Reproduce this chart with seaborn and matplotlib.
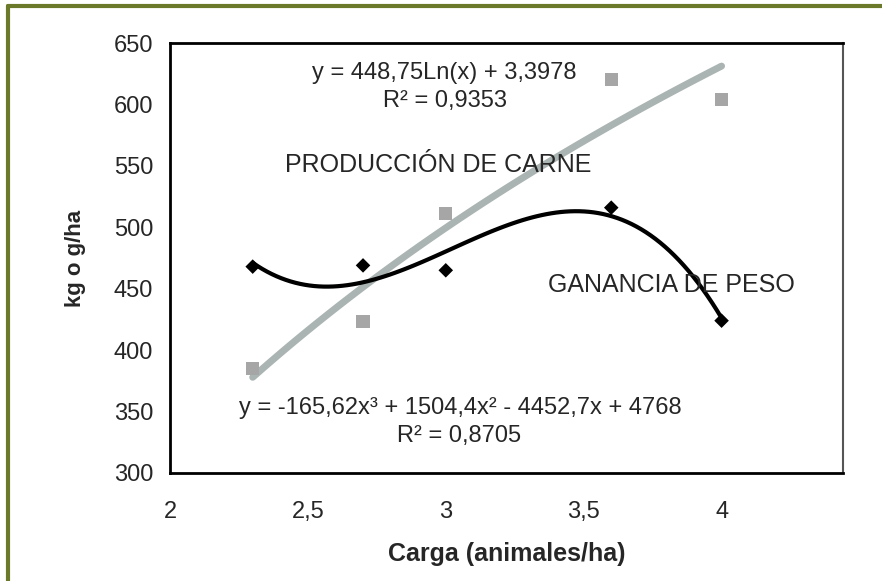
import numpy as np
import pandas as pd
import matplotlib
matplotlib.use("Agg")
import matplotlib.pyplot as plt
from matplotlib.lines import Line2D
import seaborn as sns

# ==========================================
# Data
# ==========================================
carga = [2.3, 2.7, 3.0, 3.6, 4.0]
produccion_carne = [385, 423, 511, 620, 604]
ganancia_peso = [468, 469, 465, 516, 424]

x_ticks = [2, 2.5, 3, 3.5, 4]
x_tick_labels = ["2", "2,5", "3", "3,5", "4"]
y_ticks = [300, 350, 400, 450, 500, 550, 600, 650]

eq_carne = "y = 448,75Ln(x) + 3,3978"
r2_carne = "R² = 0,9353"
eq_peso = "y = -165,62x³ + 1504,4x² - 4452,7x + 4768"
r2_peso = "R² = 0,8705"

df = pd.DataFrame({
    "carga": carga,
    "carne": produccion_carne,
    "peso": ganancia_peso,
})

# ==========================================
# Style
# ==========================================
sns.set_style("white")
plt.rcParams["font.family"] = ["Liberation Sans", "DejaVu Sans"]

fig = plt.figure(figsize=(8.82, 5.81), dpi=100)
ax = fig.add_axes([0.1927, 0.1859, 0.763, 0.740])

# trend lines
sns.regplot(data=df, x="carga", y="carne", logx=True, ci=None, scatter=False,
            truncate=True, ax=ax, line_kws={"color": "#aab4b2", "lw": 5})
sns.regplot(data=df, x="carga", y="peso", order=3, ci=None, scatter=False,
            truncate=True, ax=ax, line_kws={"color": "black", "lw": 3})

# points
sns.scatterplot(data=df, x="carga", y="carne", marker="s", s=90, color="#a6a6a6",
                edgecolor="none", ax=ax, zorder=3)
sns.scatterplot(data=df, x="carga", y="peso", marker="D", s=55, color="black",
                edgecolor="none", ax=ax, zorder=4)

ax.set_xlim(2, 4.44)
ax.set_ylim(300, 650)
ax.set_xticks(x_ticks)
ax.set_xticklabels(x_tick_labels)
ax.set_yticks(y_ticks)
ax.tick_params(axis="both", direction="out", length=6, width=1.2, color="#333333",
               labelsize=17, pad=6)
ax.tick_params(axis="x", pad=14)

for side in ["left", "bottom", "top"]:
    ax.spines[side].set_color("black")
    ax.spines[side].set_linewidth(2)
ax.spines["right"].set_color("#555555")
ax.spines["right"].set_linewidth(1.5)

ax.set_xlabel("Carga (animales/ha)", fontsize=18, fontweight="bold", labelpad=14)
ax.set_ylabel("kg o g/ha", fontsize=16, fontweight="bold", labelpad=20)

# annotations
ax.text(2.996, 626, eq_carne, ha="center", va="center", fontsize=17)
ax.text(2.996, 603, r2_carne, ha="center", va="center", fontsize=17)
ax.text(2.971, 551, "PRODUCCIÓN DE CARNE", ha="center", va="center", fontsize=18)
ax.text(3.819, 453, "GANANCIA DE PESO", ha="center", va="center", fontsize=18)
ax.text(3.054, 353, eq_peso, ha="center", va="center", fontsize=17)
ax.text(3.05, 330, r2_peso, ha="center", va="center", fontsize=17)

# olive frame around the picture (cropped right/bottom)
frame_kw = {"color": "#6b7a2a", "lw": 3, "transform": fig.transFigure}
fig.add_artist(Line2D([8 / 882, 8 / 882], [0, 1 - 6 / 581], **frame_kw))
fig.add_artist(Line2D([8 / 882, 1], [1 - 6 / 581, 1 - 6 / 581], **frame_kw))

fig.savefig("out.png", dpi=100)
